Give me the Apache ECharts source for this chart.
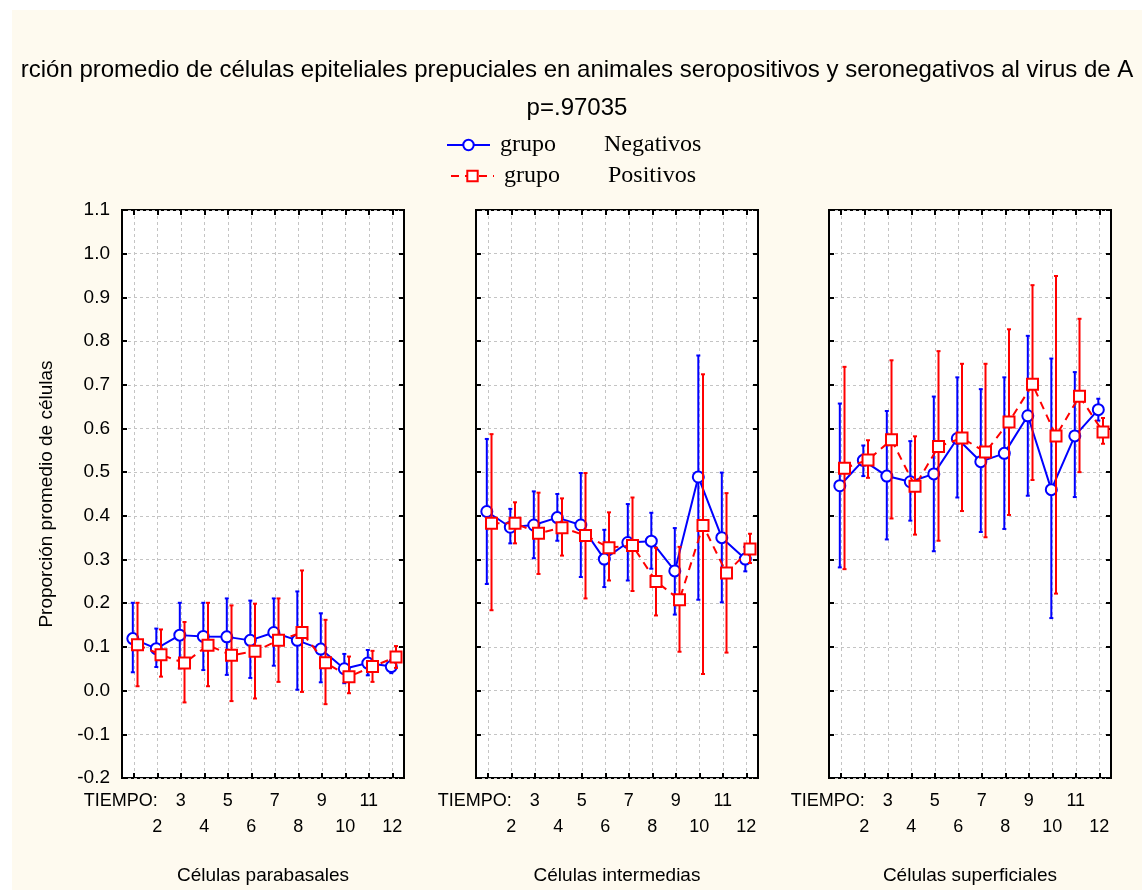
<!DOCTYPE html>
<html><head><meta charset="utf-8">
<script src="https://cdn.jsdelivr.net/npm/echarts@6/dist/echarts.min.js"></script>
<style>html,body{margin:0;padding:0;background:#fff;} #chart{position:absolute;left:12px;top:10px;width:1130px;height:880px;}</style>
</head><body><div id="chart"></div>
<script>
const tiempos = [1,2,3,4,5,6,7,8,9,10,11,12];
const tiempoLabelValues = [2,3,4,5,6,7,8,9,10,11,12];
const tiempoHeader = 'TIEMPO:';
const panelTitles = ['Células parabasales','Células intermedias','Células superficiales'];
const seriesNames = ['Negativos','Positivos'];
const titleText = 'rción promedio de células epiteliales prepuciales en animales seropositivos y seronegativos al virus de A';
const subText = 'p=.97035';
const yAxisName = 'Proporción promedio de células';

// Células parabasales
const parabNegMean = [0.119,0.096,0.127,0.124,0.123,0.115,0.133,0.115,0.095,0.050,0.063,0.055];
const parabNegLow  = [0.042,0.054,0.051,0.047,0.036,0.029,0.057,0.002,0.019,0.017,0.035,0.040];
const parabNegHigh = [0.201,0.142,0.201,0.201,0.211,0.206,0.211,0.227,0.177,0.084,0.093,0.070];
const parabPosMean = [0.105,0.082,0.063,0.104,0.081,0.090,0.115,0.133,0.064,0.032,0.055,0.077];
const parabPosLow  = [0.010,0.032,-0.027,0.010,-0.024,-0.018,0.020,-0.003,-0.031,-0.006,0.020,0.052];
const parabPosHigh = [0.201,0.140,0.157,0.201,0.195,0.199,0.211,0.275,0.162,0.078,0.091,0.102];
// Células intermedias
const interNegMean = [0.410,0.374,0.379,0.396,0.379,0.301,0.339,0.342,0.274,0.489,0.350,0.301];
const interNegLow  = [0.244,0.337,0.303,0.343,0.260,0.237,0.252,0.279,0.174,0.208,0.202,0.273];
const interNegHigh = [0.576,0.416,0.456,0.450,0.498,0.368,0.427,0.407,0.372,0.767,0.499,0.329];
const interPosMean = [0.383,0.383,0.360,0.373,0.355,0.327,0.332,0.250,0.208,0.378,0.269,0.324];
const interPosLow  = [0.184,0.337,0.267,0.309,0.211,0.252,0.228,0.172,0.089,0.038,0.087,0.292];
const interPosHigh = [0.587,0.431,0.453,0.440,0.498,0.408,0.442,0.327,0.329,0.724,0.452,0.359];
// Células superficiales
const superNegMean = [0.469,0.527,0.491,0.478,0.496,0.577,0.524,0.543,0.629,0.460,0.583,0.643];
const superNegLow  = [0.282,0.491,0.346,0.389,0.319,0.442,0.363,0.370,0.446,0.166,0.443,0.618];
const superNegHigh = [0.657,0.561,0.640,0.571,0.673,0.717,0.690,0.717,0.812,0.760,0.729,0.668];
const superPosMean = [0.509,0.528,0.574,0.468,0.559,0.578,0.546,0.615,0.701,0.583,0.674,0.592];
const superPosLow  = [0.278,0.487,0.394,0.357,0.343,0.411,0.351,0.402,0.482,0.222,0.500,0.565];
const superPosHigh = [0.741,0.573,0.756,0.582,0.777,0.748,0.748,0.827,0.928,0.949,0.851,0.624];

const panels = [
  {neg:[parabNegMean,parabNegLow,parabNegHigh], pos:[parabPosMean,parabPosLow,parabPosHigh]},
  {neg:[interNegMean,interNegLow,interNegHigh], pos:[interPosMean,interPosLow,interPosHigh]},
  {neg:[superNegMean,superNegLow,superNegHigh], pos:[superPosMean,superPosLow,superPosHigh]}
];

const SANS = "'Liberation Sans', Arial, sans-serif";
const SERIF = "'Liberation Serif', 'Times New Roman', serif";
const BLUE = '#0000ff', RED = '#ff0000';
const gridLefts = [110, 464, 817];
const negShift = -0.04, posShift = 0.16;

function errorBarItem(color){
  return function(params, api){
    const x = api.value(0);
    const top = api.coord([x, api.value(2)]);
    const bot = api.coord([x, api.value(1)]);
    const cap = 2;
    const style = {stroke: color, lineWidth: 2, fill: null};
    return {type:'group', children:[
      {type:'line', shape:{x1:top[0], y1:top[1], x2:bot[0], y2:bot[1]}, style: style},
      {type:'line', shape:{x1:top[0]-cap, y1:top[1], x2:top[0]+cap, y2:top[1]}, style: style},
      {type:'line', shape:{x1:bot[0]-cap, y1:bot[1], x2:bot[0]+cap, y2:bot[1]}, style: style}
    ]};
  };
}

function xLabel(v){
  if (v % 2 === 1) return '{n|' + v + '}\n{n| }';
  return '{n| }\n{n|' + v + '}';
}

const labelRich = {
  n:{fontFamily:SANS, fontSize:18, lineHeight:26, color:'#000'},
  t:{fontFamily:SANS, fontSize:18, lineHeight:26, color:'#000', padding:[0,26,0,0]}
};

const grids = [], xAxes = [], yAxes = [], series = [];
panels.forEach(function(p, g){
  grids.push({left: gridLefts[g], top: 200, width: 282, height: 569, show: true,
    backgroundColor: '#ffffff', borderColor: '#000', borderWidth: 2, containLabel: false});
  // main bottom axis: ticks, grid lines, number labels, panel name
  xAxes.push({type:'value', gridIndex:g, position:'bottom', min:0.5, max:12.5,
    axisLine:{show:false, onZero:false},
    axisTick:{show:true, inside:true, length:5, customValues:tiempos, lineStyle:{color:'#000', width:2}},
    axisLabel:{show:true, customValues:tiempoLabelValues, formatter:xLabel, margin:10, color:'#000',
      hideOverlap:false, fontFamily:SANS, fontSize:18, rich:labelRich},
    splitLine:{show:true, lineStyle:{color:'#c4c4c4', width:1, type:[3,3]}},
    name: panelTitles[g], nameLocation:'middle', nameGap:88,
    nameTextStyle:{fontFamily:SANS, fontSize:19, color:'#000'}
  });
  // top axis: ticks only
  xAxes.push({type:'value', gridIndex:g, position:'top', min:0.5, max:12.5,
    axisLine:{show:false, onZero:false},
    axisTick:{show:true, inside:true, length:5, customValues:tiempos, lineStyle:{color:'#000', width:2}},
    axisLabel:{show:false}, splitLine:{show:false}});
  // header label "TIEMPO:" at the first time point
  xAxes.push({type:'value', gridIndex:g, position:'bottom', min:0.5, max:12.5,
    axisLine:{show:false, onZero:false}, axisTick:{show:false}, splitLine:{show:false},
    axisLabel:{show:true, customValues:[tiempos[0]], margin:10, color:'#000',
      showMinLabel:true, showMaxLabel:true,
      formatter: function(){ return '{t|' + tiempoHeader + '}\n{n| }'; },
      fontFamily:SANS, fontSize:18, rich:labelRich}});
  const yl = {type:'value', gridIndex:g, position:'left', min:-0.2, max:1.1, interval:0.1,
    axisLine:{show:false, onZero:false},
    axisTick:{show:true, inside:true, length:5, lineStyle:{color:'#000', width:2}},
    axisLabel:{show: g === 0, formatter: function(v){ return v.toFixed(1); }, margin:12,
      color:'#000', fontFamily:SANS, fontSize:19},
    splitLine:{show:true, lineStyle:{color:'#c4c4c4', width:1, type:[3,3]}}};
  if (g === 0) {
    yl.name = yAxisName; yl.nameLocation = 'middle'; yl.nameGap = 66;
    yl.nameTextStyle = {fontFamily:SANS, fontSize:19, color:'#000'};
  }
  yAxes.push(yl);
  yAxes.push({type:'value', gridIndex:g, position:'right', min:-0.2, max:1.1, interval:0.1,
    axisLine:{show:false, onZero:false},
    axisTick:{show:true, inside:true, length:5, lineStyle:{color:'#000', width:2}},
    axisLabel:{show:false}, splitLine:{show:false}});

  const xi = 3*g, yi = 2*g;
  const negData = tiempos.map(function(t,i){ return [t+negShift, p.neg[0][i]]; });
  const posData = tiempos.map(function(t,i){ return [t+posShift, p.pos[0][i]]; });
  const negErr = tiempos.map(function(t,i){ return [t+negShift, p.neg[1][i], p.neg[2][i]]; });
  const posErr = tiempos.map(function(t,i){ return [t+posShift, p.pos[1][i], p.pos[2][i]]; });

  series.push({type:'custom', name:'errNeg'+g, xAxisIndex:xi, yAxisIndex:yi, z:2,
    renderItem: errorBarItem(BLUE), data: negErr, encode:{x:0, y:[1,2]}, silent:true});
  series.push({type:'line', name:seriesNames[0], xAxisIndex:xi, yAxisIndex:yi, z:3,
    data: negData, symbol:'circle', symbolSize:11,
    itemStyle:{color:'#ffffff', borderColor:BLUE, borderWidth:2},
    lineStyle:{color:BLUE, width:2, type:'solid'}});
  series.push({type:'custom', name:'errPos'+g, xAxisIndex:xi, yAxisIndex:yi, z:4,
    renderItem: errorBarItem(RED), data: posErr, encode:{x:0, y:[1,2]}, silent:true});
  series.push({type:'line', name:seriesNames[1], xAxisIndex:xi, yAxisIndex:yi, z:5,
    data: posData, symbol:'rect', symbolSize:11,
    itemStyle:{color:'#ffffff', borderColor:RED, borderWidth:2},
    lineStyle:{color:RED, width:2, type:[8,6]}});
});

function legendFor(name, left, top){
  return {data:[name], left:left, top:top, padding:0, itemWidth:43, itemHeight:13,
    selectedMode:false,
    formatter: function(n){ return '{g|grupo}{n|' + n + '}'; },
    textStyle:{fontFamily:SERIF, fontSize:24, color:'#000', lineHeight:28,
      rich:{g:{fontFamily:SERIF, fontSize:24, color:'#000', width:104, padding:[0,0,0,5], lineHeight:28},
            n:{fontFamily:SERIF, fontSize:24, color:'#000', lineHeight:28}}}};
}

const chart = echarts.init(document.getElementById('chart'), null, {renderer:'canvas'});
chart.setOption({
  animation:false,
  backgroundColor:'#fefaef',
  title:[
    {text:titleText, left:'center', top:48, padding:0,
      textStyle:{fontFamily:SANS, fontSize:24, fontWeight:'normal', color:'#000'}},
    {text:subText, left:'center', top:86, padding:0,
      textStyle:{fontFamily:SANS, fontSize:24, fontWeight:'normal', color:'#000'}}
  ],
  legend:[legendFor(seriesNames[0], 434, 121), legendFor(seriesNames[1], 438, 152)],
  grid: grids, xAxis: xAxes, yAxis: yAxes, series: series
});
</script></body></html>
